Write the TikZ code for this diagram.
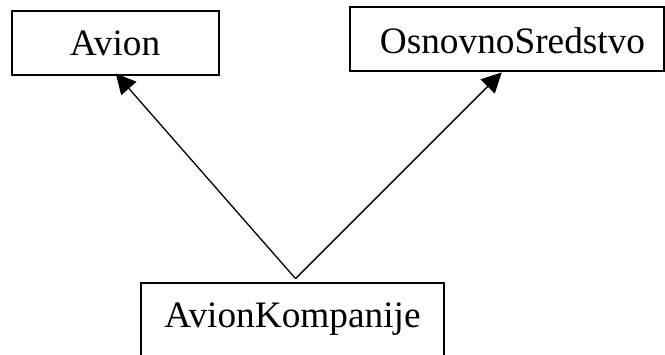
\documentclass[tikz,border=0pt]{standalone}
\usepackage{fontspec}
\setmainfont{Liberation Serif}
\usetikzlibrary{arrows.meta,calc}
\tikzset{
  classbox/.style={draw=black, line width=1.8pt, rectangle, inner sep=0pt},
  classname/.style={anchor=base, inner sep=0pt, font=\fontsize{37.3}{44}\selectfont},
  inherit/.style={draw=black, line width=1.3pt, -{Triangle[length=20pt,width=20pt]}}
}
\begin{document}
\begin{tikzpicture}[x=1pt,y=-1pt]
  \clip (0,0) rectangle (665,354);
  \fill[white] (0,0) rectangle (665,354);

  % class boxes
  \node[classbox, minimum width=207pt, minimum height=64pt] (avion) at (115.5,43) {};
  \node[classbox, minimum width=314pt, minimum height=64pt] (sredstvo) at (507,39) {};
  \node[classbox, minimum width=303pt, minimum height=100pt] (kompanija) at (292.5,333) {};

  % class names
  \node[classname] (avionname) at (115,55) {Avion};
  \node[classname] (sredstvoname) at (512.5,53) {OsnovnoSredstvo};
  \node[classname] (kompanijaname) at (292.5,327) {AvionKompanije};

  % generalization arrows
  \coordinate (apex) at ($(kompanija.north)+(3,-3.5)$);
  \coordinate (avionTip) at ($(avion.south)+(0.2,-2.5)$);
  \coordinate (sredstvoTip) at ($(sredstvo.south)+(-5.3,0.5)$);
  \draw[inherit] (apex) -- (avionTip);
  \draw[inherit] (apex) -- (sredstvoTip);
\end{tikzpicture}
\end{document}
